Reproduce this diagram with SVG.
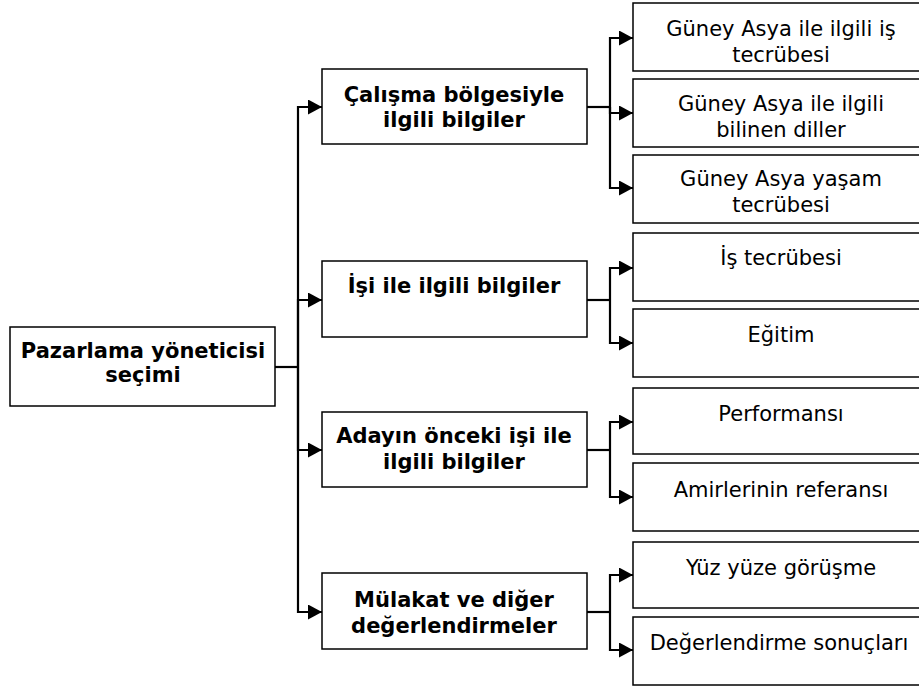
<svg xmlns="http://www.w3.org/2000/svg" width="919" height="686" viewBox="0 0 919 686">
<style>
.box{fill:#fff;stroke:#000;stroke-width:1.5}
.b{font-family:"DejaVu Sans",Verdana,sans-serif;font-weight:bold;font-size:21px;text-anchor:middle;fill:#000}
.r{font-family:"DejaVu Sans",Verdana,sans-serif;font-size:21px;text-anchor:middle;fill:#000}
.c{fill:none;stroke:#000;stroke-width:2.2}
</style>
<defs>
<marker id="ah" markerUnits="userSpaceOnUse" markerWidth="14" markerHeight="15" refX="14" refY="7.5" orient="auto">
<path d="M0,0 L14,7.5 L0,15 Z" fill="#000"/>
</marker>
</defs>
<rect width="919" height="686" fill="#fff"/>
<g id="connectors">
<path class="c" d="M275,367 H298"/>
<path class="c" d="M298,367 V107 H322" marker-end="url(#ah)"/>
<path class="c" d="M298,367 V300 H322" marker-end="url(#ah)"/>
<path class="c" d="M298,367 V450 H322" marker-end="url(#ah)"/>
<path class="c" d="M298,367 V612 H322" marker-end="url(#ah)"/>
<path class="c" d="M587,107 H610"/>
<path class="c" d="M610,107 V38 H633" marker-end="url(#ah)"/>
<path class="c" d="M610,107 V113 H633" marker-end="url(#ah)"/>
<path class="c" d="M610,107 V188 H633" marker-end="url(#ah)"/>
<path class="c" d="M587,300 H610"/>
<path class="c" d="M610,300 V268 H633" marker-end="url(#ah)"/>
<path class="c" d="M610,300 V343 H633" marker-end="url(#ah)"/>
<path class="c" d="M587,450 H610"/>
<path class="c" d="M610,450 V422 H633" marker-end="url(#ah)"/>
<path class="c" d="M610,450 V497 H633" marker-end="url(#ah)"/>
<path class="c" d="M587,612 H610"/>
<path class="c" d="M610,612 V575 H633" marker-end="url(#ah)"/>
<path class="c" d="M610,612 V650 H633" marker-end="url(#ah)"/>
</g>
<g id="root">
<rect class="box" x="10" y="327" width="265" height="79"/>
<text class="b" x="143" y="358">Pazarlama yöneticisi</text>
<text class="b" x="143" y="382">seçimi</text>
</g>
<g id="n1">
<rect class="box" x="322" y="69" width="265" height="75"/>
<text class="b" x="454" y="102">Çalışma bölgesiyle</text>
<text class="b" x="454" y="127">ilgili bilgiler</text>
</g>
<g id="n2">
<rect class="box" x="322" y="261" width="265" height="76"/>
<text class="b" x="454" y="293">İşi ile ilgili bilgiler</text>
</g>
<g id="n3">
<rect class="box" x="322" y="412" width="265" height="75"/>
<text class="b" x="454" y="443">Adayın önceki işi ile</text>
<text class="b" x="454" y="469">ilgili bilgiler</text>
</g>
<g id="n4">
<rect class="box" x="322" y="573" width="265" height="76"/>
<text class="b" x="454" y="607">Mülakat ve diğer</text>
<text class="b" x="454" y="633">değerlendirmeler</text>
</g>
<g id="n1a">
<rect class="box" x="633" y="3" width="300" height="68"/>
<text class="r" x="781" y="36">Güney Asya ile ilgili iş</text>
<text class="r" x="781" y="62">tecrübesi</text>
</g>
<g id="n1b">
<rect class="box" x="633" y="79" width="300" height="68"/>
<text class="r" x="781" y="111">Güney Asya ile ilgili</text>
<text class="r" x="781" y="137">bilinen diller</text>
</g>
<g id="n1c">
<rect class="box" x="633" y="155" width="300" height="68"/>
<text class="r" x="781" y="186">Güney Asya yaşam</text>
<text class="r" x="781" y="212">tecrübesi</text>
</g>
<g id="n2a">
<rect class="box" x="633" y="233" width="300" height="68"/>
<text class="r" x="781" y="265">İş tecrübesi</text>
</g>
<g id="n2b">
<rect class="box" x="633" y="309" width="300" height="68"/>
<text class="r" x="781" y="342">Eğitim</text>
</g>
<g id="n3a">
<rect class="box" x="633" y="388" width="300" height="66"/>
<text class="r" x="781" y="421">Performansı</text>
</g>
<g id="n3b">
<rect class="box" x="633" y="463" width="300" height="68"/>
<text class="r" x="781" y="497">Amirlerinin referansı</text>
</g>
<g id="n4a">
<rect class="box" x="633" y="542" width="300" height="66"/>
<text class="r" x="781" y="575">Yüz yüze görüşme</text>
</g>
<g id="n4b">
<rect class="box" x="633" y="617" width="300" height="68"/>
<text class="r" x="779" y="650">Değerlendirme sonuçları</text>
</g>
</svg>
